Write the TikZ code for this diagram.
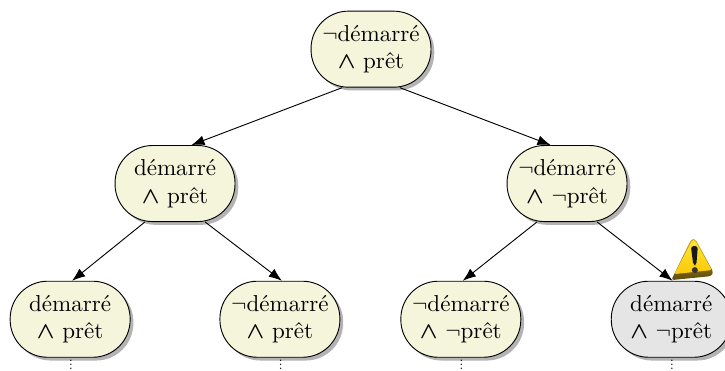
\documentclass[tikz,border=0pt]{standalone}
\usepackage{amsmath}
\usetikzlibrary{positioning}
\usetikzlibrary{arrows.meta}
\usetikzlibrary{shadows}
\definecolor{statefill}{RGB}{245,245,220}
\definecolor{badfill}{RGB}{229,229,229}
\definecolor{warnedge}{RGB}{90,75,15}
\definecolor{warnrim}{RGB}{225,165,20}
\definecolor{warnlight}{RGB}{255,232,50}
\definecolor{warndark}{RGB}{250,200,10}
\tikzset{
  every text node part/.append style={align=center},
  state/.style={draw=black, fill=statefill, rounded corners=0.57cm, minimum width=1.83cm,
    minimum height=1.16cm, inner sep=0pt, drop shadow={shadow xshift=0.5mm, shadow yshift=-0.5mm, opacity=0.6}},
  badstate/.style={state, fill=badfill},
  more/.style={inner sep=0pt, xshift=0.3pt, font=\tiny}
}
\tikzstyle{arrow} = [-{Latex[length=2mm,width=1.5mm]}]
\newcommand\notsign{$\boldsymbol{\wedge}$}
\newcommand\moredots{\vbox{\baselineskip=1.7pt \lineskiplimit=0pt \hbox{.}\hbox{.}\hbox{.}}}
\newcommand\warnsign[2]{
  % #1 - Tikz name
  % #2 - Location
  \node [inner sep=0pt] at (#2) (#1) {
    \tikz [x=0.01526cm, y=0.01526cm] {
      \shade[top color=warnrim, middle color=warnrim, bottom color=warnedge, rounded corners=0.4mm]
        (-1,1) -- (19,42) -- (23,42) -- (41,9) -- (39,5) -- cycle;
      \shade[top color=warnlight, bottom color=warndark, rounded corners=0.3mm]
        (2,7) -- (20,41) -- (22.5,41) -- (39.5,11) -- cycle;
      \fill[black!90, rounded corners=0.4mm] (21,16) -- (18.5,35) -- (25.5,35) -- (24,16) -- cycle;
      \fill[black!80] (22.5,11) circle (3);
    }
  };
}

\begin{document}
\begin{tikzpicture}
  \useasboundingbox (0,0) rectangle (11.06,5.65);

  \node [state] at (5.66,4.90) (root) {$\neg$démarré\\\notsign{} prêt};
  \node [state] at (2.67,2.85) (a) {démarré\\\notsign{} prêt};
  \node [state] at (8.65,2.85) (b) {$\neg$démarré\\\notsign{} $\neg$prêt};
  \node [state] at (1.07,0.78) (aa) {démarré\\\notsign{} prêt};
  \node [state] at (4.27,0.78) (ab) {$\neg$démarré\\\notsign{} prêt};
  \node [state] at (7.03,0.78) (ba) {$\neg$démarré\\\notsign{} $\neg$prêt};
  \node [badstate] at (10.24,0.78) (bb) {démarré\\\notsign{} $\neg$prêt};

  \warnsign{warn}{10.62,1.69}

  \foreach \name in {aa,ab,ba,bb} {
    \node [more, below=1pt of \name] (\name dots) {\moredots};
  }

  \draw[arrow] ([xshift=-0.44cm]root.south) -- ([xshift=0.25cm]a.north);
  \draw[arrow] ([xshift=0.44cm]root.south) -- ([xshift=-0.25cm]b.north);
  \draw[arrow] ([xshift=-0.46cm]a.south) -- ([xshift=0.03cm]aa.north);
  \draw[arrow] ([xshift=0.46cm]a.south) -- ([xshift=0.03cm]ab.north);
  \draw[arrow] ([xshift=-0.46cm]b.south) -- ([xshift=0.03cm]ba.north);
  \draw[arrow] ([xshift=0.46cm]b.south) -- ([xshift=0.02cm]bb.north);
\end{tikzpicture}
\end{document}
